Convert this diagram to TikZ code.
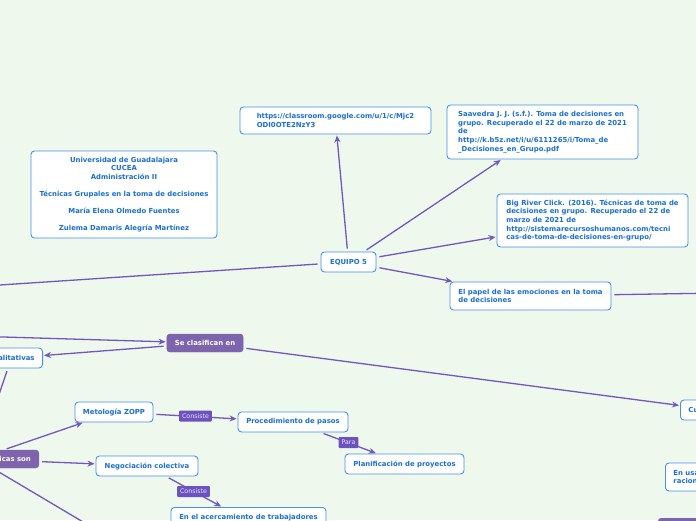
\documentclass[tikz,border=0pt]{standalone}
\usepackage{fontspec}
\setmainfont{DejaVu Sans}
\usetikzlibrary{arrows.meta}
\definecolor{bg}{RGB}{239,248,236}
\definecolor{bcol}{RGB}{70,145,230}
\definecolor{tcol}{RGB}{25,110,215}
\definecolor{ecol}{RGB}{112,88,192}
\definecolor{pfill}{RGB}{125,100,172}
\definecolor{lfill}{RGB}{108,82,190}
\definecolor{ltext}{RGB}{235,228,250}
\newcommand{\bfnt}{\fontsize{6.9}{8.7}\selectfont\bfseries}
\newcommand{\ufnt}{\fontsize{6.9}{8.5}\selectfont\bfseries}
\newcommand{\lfnt}{\fontsize{6.3}{7}\selectfont}
\tikzset{
 box/.style={draw=bcol, fill=white, rounded corners=3.5pt, line width=0.9pt, text=tcol, font=\bfnt, inner xsep=8pt, inner ysep=0pt, align=left, minimum height=20pt},
 pbox/.style={draw=pfill, fill=pfill, rounded corners=3pt, text=white, font=\bfnt, inner xsep=8pt, inner ysep=0pt, minimum height=18pt},
 lab/.style={fill=lfill, text=ltext, font=\lfnt, inner xsep=3pt, inner ysep=0pt, minimum height=11pt, rounded corners=1pt},
 conn/.style={draw=ecol, line width=1.3pt, -{Stealth[length=7pt,width=6pt]}, shorten >=1pt, shorten <=3pt},
 lineonly/.style={draw=ecol, line width=1.3pt, shorten <=3pt, shorten >=3pt},
}
\begin{document}
\begin{tikzpicture}[x=1pt,y=-1pt]
\useasboundingbox (0,0) rectangle (696,520);
\fill[bg] (0,0) rectangle (696,520);
\clip (0,0) rectangle (696,520);

% nodes
\node[box, minimum width=191pt, minimum height=27pt] (url) at (335.5,120.5) {https://classroom.google.com/u/1/c/Mjc2\\ODI0OTE2NzY3};
\node[box, minimum width=191pt, minimum height=54pt] (saav) at (542.5,132) {Saavedra J. J. (s.f.). Toma de decisiones en\\grupo. Recuperado el 22 de marzo de 2021\\de\\http://k.b5z.net/i/u/6111265/i/Toma\_de\\\_Decisiones\_en\_Grupo.pdf};
\node[box, minimum width=191pt, minimum height=53pt] (big) at (592.5,220.5) {Big River Click. (2016). Técnicas de toma de\\decisiones en grupo. Recuperado el 22 de\\marzo de 2021 de\\http://sistemarecursoshumanos.com/tecni\\cas-de-toma-de-decisiones-en-grupo/};
\node[box, font=\ufnt, align=center, minimum width=186pt, minimum height=87pt] (univ) at (124,194.5) {Universidad de Guadalajara\\CUCEA\\Administración II\\[8.5pt]Técnicas Grupales en la toma de decisiones\\[8.5pt]María Elena Olmedo Fuentes\\[8.5pt]Zulema Damaris Alegría Martínez};
\node[box, align=center, minimum width=55pt] (eq) at (348.5,262) {EQUIPO 5};
\node[box, minimum width=161pt, minimum height=28pt] (papel) at (530.5,296) {El papel de las emociones en la toma\\de decisiones};
\node[pbox, minimum width=76pt] (secl) at (205,343) {Se clasifican en};
\node[box, anchor=east] (cual) at (43,358) {Cualitativas};
\node[pbox, anchor=east] (tec) at (39,459) {Algunas de las técnicas son};
\node[box, minimum width=78pt] (zopp) at (114,412) {Metología ZOPP};
\node[box, minimum width=110pt] (proc) at (293,422) {Procedimiento de pasos};
\node[box, minimum width=119pt] (plan) at (404.5,464) {Planificación de proyectos};
\node[box, minimum width=102pt] (neg) at (147,466) {Negociación colectiva};
\node[box, anchor=north, minimum width=155pt, minimum height=28pt] (acerc) at (248.5,507) {En el acercamiento de trabajadores\\\mbox{}};
\node[box, anchor=west] (cu) at (680,410) {Cuantitativas};
\node[box, anchor=west, minimum height=28pt] (enus) at (665,477) {En usar\\racionalidad};
\node[pbox, anchor=north west, minimum width=60pt] (brn) at (658,518) {};

% off-canvas ends
\coordinate (offL1) at (-20,286.3);
\coordinate (offL2) at (-20,336.3);
\coordinate (offR) at (720,293);
\coordinate (offB) at (100,532);

% connectors
\draw[conn] (eq) -- (url);
\draw[conn] (eq) -- (saav);
\draw[conn] (eq) -- (big);
\draw[conn] (eq) -- (papel);
\draw[lineonly] (papel) -- (offR);
\draw[lineonly] (offL1) -- (eq);
\draw[conn] (offL2) -- (secl);
\draw[conn] (secl) -- (cual);
\draw[conn] (secl) -- (cu);
\draw[conn] (cual) -- (tec);
\draw[conn] (tec) -- (zopp);
\draw[conn] (tec) -- (neg);
\draw[lineonly] (tec) -- (offB);
\draw[conn] (zopp) -- (proc);
\draw[conn] (proc) -- (plan);
\draw[conn] (neg) -- (acerc);

% connector labels
\node[lab] (l1) at (195.5,416) {Consiste};
\node[lab] (l2) at (348.5,442.5) {Para};
\node[lab] (l3) at (193.5,491.5) {Consiste};
\end{tikzpicture}
\end{document}
